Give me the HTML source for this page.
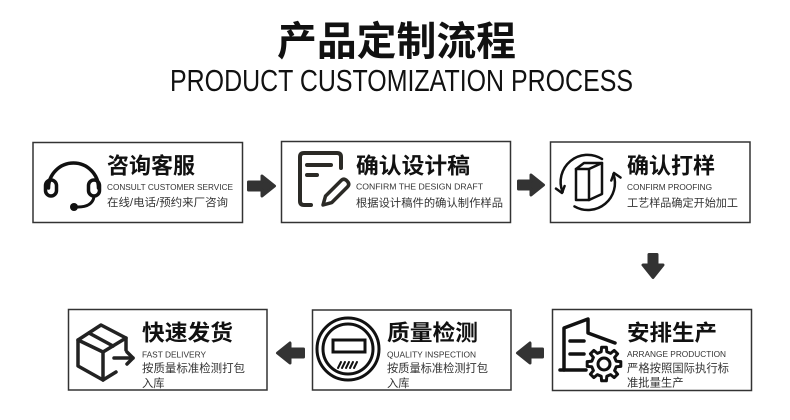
<!DOCTYPE html>
<html>
<head>
<meta charset="utf-8">
<style>
html,body{margin:0;padding:0;background:#fff;}
svg{display:block;}
.cjk{font-family:"Liberation Sans","Noto Sans CJK SC",sans-serif;}
.en{font-family:"Liberation Sans",sans-serif;}
</style>
</head>
<body>
<svg width="790" height="420" viewBox="0 0 790 420" xmlns="http://www.w3.org/2000/svg">
<rect width="790" height="420" fill="#fff"/>

<!-- Header -->
<text class="cjk" x="277" y="55" font-size="40" font-weight="bold" fill="#111" textLength="239" lengthAdjust="spacingAndGlyphs">产品定制流程</text>
<text class="en" x="170" y="91" font-size="31" fill="#111" textLength="463" lengthAdjust="spacingAndGlyphs">PRODUCT CUSTOMIZATION PROCESS</text>

<!-- Boxes -->
<g fill="none" stroke="#333" stroke-width="1.5">
  <rect x="33" y="142.5" width="209.5" height="80"/>
  <rect x="281.5" y="141.5" width="229" height="81"/>
  <rect x="550.5" y="142" width="199.5" height="80.5"/>
  <rect x="68.5" y="309.5" width="198.5" height="80.5"/>
  <rect x="312.5" y="310" width="198.5" height="80"/>
  <rect x="552.5" y="309.5" width="199" height="81"/>
</g>

<!-- Fat arrows -->
<g fill="#333" stroke="#333" stroke-width="3" stroke-linejoin="round">
  <polygon points="248.5,182 262,182 262,176 274.5,186 262,196 262,190 248.5,190"/>
  <polygon points="518.5,181 531,181 531,175 543.5,185 531,195 531,189 518.5,189"/>
  <polygon points="649,254.5 657,254.5 657,265 663,265 653,277.5 643,265 649,265"/>
  <polygon points="277.5,353 290,343 290,349 303.5,349 303.5,357 290,357 290,363"/>
  <polygon points="517.5,353 530,343 530,349 542.5,349 542.5,357 530,357 530,363"/>
</g>

<!-- Icon 1: headset -->
<g fill="none" stroke="#111" stroke-width="3.5" stroke-linecap="round">
  <path d="M48.5 188 A25 25 0 0 1 98.5 188"/>
  <rect x="45.5" y="180" width="11" height="16" rx="5.5"/>
  <rect x="88.5" y="180" width="11" height="16" rx="5.5"/>
  <path d="M94 197 Q92 207 78 207" stroke-width="3"/>
</g>
<circle cx="74" cy="207" r="4" fill="#111"/>

<!-- Icon 2: document + pencil -->
<g fill="none" stroke="#2b2a26" stroke-width="4" stroke-linecap="round" stroke-linejoin="round">
  <path d="M311 205 L304 205 Q300 205 300 201 L300 157 Q300 153 304 153 L337 153 Q341 153 341 157 L341 168"/>
  <path d="M307 165 L331 165"/>
  <path d="M307 175 L317 175"/>
  <g transform="translate(323,205) rotate(-45)">
    <path d="M0 0 L8 -4.5 L30 -4.5 Q34 -4.5 34 0 Q34 4.5 30 4.5 L8 4.5 Z" stroke-width="3.5"/>
  </g>
</g>

<!-- Icon 3: cube with cycle arrows -->
<g fill="none" stroke="#111" stroke-width="2.5" stroke-linecap="round" stroke-linejoin="round">
  <path d="M602 159 A27 27 0 0 0 562.6 192"/>
  <path d="M574.5 206.4 A27 27 0 0 0 613.4 174"/>
  <path d="M564.6 186 L562 193 L556 188.6"/>
  <path d="M620.5 177.5 L614 173 L611.3 180.5"/>
  <rect x="576" y="169" width="13" height="31"/>
  <path d="M576 169 L584 163 L602 163 L589 169"/>
  <path d="M602 163 L602 194 L589 200"/>
</g>

<!-- Icon 4: package with arrow -->
<g fill="none" stroke="#222" stroke-width="3.5" stroke-linecap="round" stroke-linejoin="round">
  <path d="M78 340 L101 325 L126 338 L103 352 Z"/>
  <path d="M78 340 L78 366 L103 380 L103 352"/>
  <path d="M126 338 L126 350"/>
  <path d="M103 380 L116 372"/>
  <path d="M89 333 L113 346"/>
  <path d="M114 358 L133 358"/>
  <path d="M127 352 L133 358 L127 364"/>
</g>

<!-- Icon 5: inspection gauge -->
<g fill="none" stroke="#111" stroke-width="3">
  <circle cx="348" cy="349" r="31"/>
  <circle cx="348" cy="349" r="25"/>
  <rect x="333" y="340" width="32" height="12"/>
</g>
<g stroke="#111" stroke-width="2" stroke-linecap="round">
  <path d="M338 368 L341 362"/>
  <path d="M342 368 L345 362"/>
  <path d="M346 368 L349 362"/>
  <path d="M350 368 L353 362"/>
  <path d="M354 368 L357 362"/>
</g>

<!-- Icon 6: factory + gear -->
<g fill="none" stroke="#111" stroke-width="3.5" stroke-linecap="round" stroke-linejoin="round">
  <path d="M564 370 L564 328 L588 319 L588 333 L615 343"/>
  <path d="M570 341 L584 341"/>
  <path d="M570 354 L584 354"/>
  <path d="M560 370 L586 370"/>
  <path stroke-width="3" d="M616.2 361.2 L620.8 361.6 L620.8 366.4 L616.2 366.8 L614.6 370.6 L617.6 374.2 L614.2 377.6 L610.6 374.6 L606.8 376.2 L606.4 380.8 L601.6 380.8 L601.2 376.2 L597.4 374.6 L593.8 377.6 L590.4 374.2 L593.4 370.6 L591.8 366.8 L587.2 366.4 L587.2 361.6 L591.8 361.2 L593.4 357.4 L590.4 353.8 L593.8 350.4 L597.4 353.4 L601.2 351.8 L601.6 347.2 L606.4 347.2 L606.8 351.8 L610.6 353.4 L614.2 350.4 L617.6 353.8 L614.6 357.4 Z"/>
  <circle cx="604" cy="364" r="6" stroke-width="3"/>
</g>

<!-- Box 1 text -->
<text class="cjk" x="107" y="173.5" font-size="22" font-weight="bold" fill="#111" textLength="88" lengthAdjust="spacingAndGlyphs">咨询客服</text>
<text class="en" x="107" y="190" font-size="8" fill="#333" textLength="126" lengthAdjust="spacingAndGlyphs">CONSULT CUSTOMER SERVICE</text>
<text class="cjk" x="107" y="206" font-size="11" fill="#333" textLength="121" lengthAdjust="spacingAndGlyphs">在线/电话/预约来厂咨询</text>

<!-- Box 2 text -->
<text class="cjk" x="356" y="173.5" font-size="22" font-weight="bold" fill="#111" textLength="114" lengthAdjust="spacingAndGlyphs">确认设计稿</text>
<text class="en" x="356" y="189.5" font-size="8" fill="#333" textLength="127" lengthAdjust="spacingAndGlyphs">CONFIRM THE DESIGN DRAFT</text>
<text class="cjk" x="356" y="206.5" font-size="11" fill="#333" textLength="147" lengthAdjust="spacingAndGlyphs">根据设计稿件的确认制作样品</text>

<!-- Box 3 text -->
<text class="cjk" x="627" y="173.5" font-size="22" font-weight="bold" fill="#111" textLength="88" lengthAdjust="spacingAndGlyphs">确认打样</text>
<text class="en" x="627" y="190" font-size="8" fill="#333" textLength="85" lengthAdjust="spacingAndGlyphs">CONFIRM PROOFING</text>
<text class="cjk" x="627" y="206.5" font-size="11" fill="#333" textLength="111" lengthAdjust="spacingAndGlyphs">工艺样品确定开始加工</text>

<!-- Box 4 text -->
<text class="cjk" x="142" y="340.5" font-size="22" font-weight="bold" fill="#111" textLength="91" lengthAdjust="spacingAndGlyphs">快速发货</text>
<text class="en" x="142" y="357.5" font-size="8" fill="#333" textLength="64" lengthAdjust="spacingAndGlyphs">FAST DELIVERY</text>
<text class="cjk" x="142" y="372" font-size="11.3" fill="#333" textLength="103" lengthAdjust="spacingAndGlyphs">按质量标准检测打包</text>
<text class="cjk" x="142" y="387" font-size="11.3" fill="#333">入库</text>

<!-- Box 5 text -->
<text class="cjk" x="387" y="340.5" font-size="22" font-weight="bold" fill="#111" textLength="91" lengthAdjust="spacingAndGlyphs">质量检测</text>
<text class="en" x="387" y="357.5" font-size="8" fill="#333" textLength="89" lengthAdjust="spacingAndGlyphs">QUALITY INSPECTION</text>
<text class="cjk" x="387" y="372" font-size="11.3" fill="#333" textLength="101" lengthAdjust="spacingAndGlyphs">按质量标准检测打包</text>
<text class="cjk" x="387" y="387" font-size="11.3" fill="#333">入库</text>

<!-- Box 6 text -->
<text class="cjk" x="627" y="340.5" font-size="22" font-weight="bold" fill="#111" textLength="90" lengthAdjust="spacingAndGlyphs">安排生产</text>
<text class="en" x="627" y="357" font-size="8" fill="#333" textLength="99" lengthAdjust="spacingAndGlyphs">ARRANGE PRODUCTION</text>
<text class="cjk" x="627" y="372" font-size="11.3" fill="#333" textLength="102" lengthAdjust="spacingAndGlyphs">严格按照国际执行标</text>
<text class="cjk" x="627" y="386.5" font-size="11.3" fill="#333">准批量生产</text>
</svg>
</body>
</html>
